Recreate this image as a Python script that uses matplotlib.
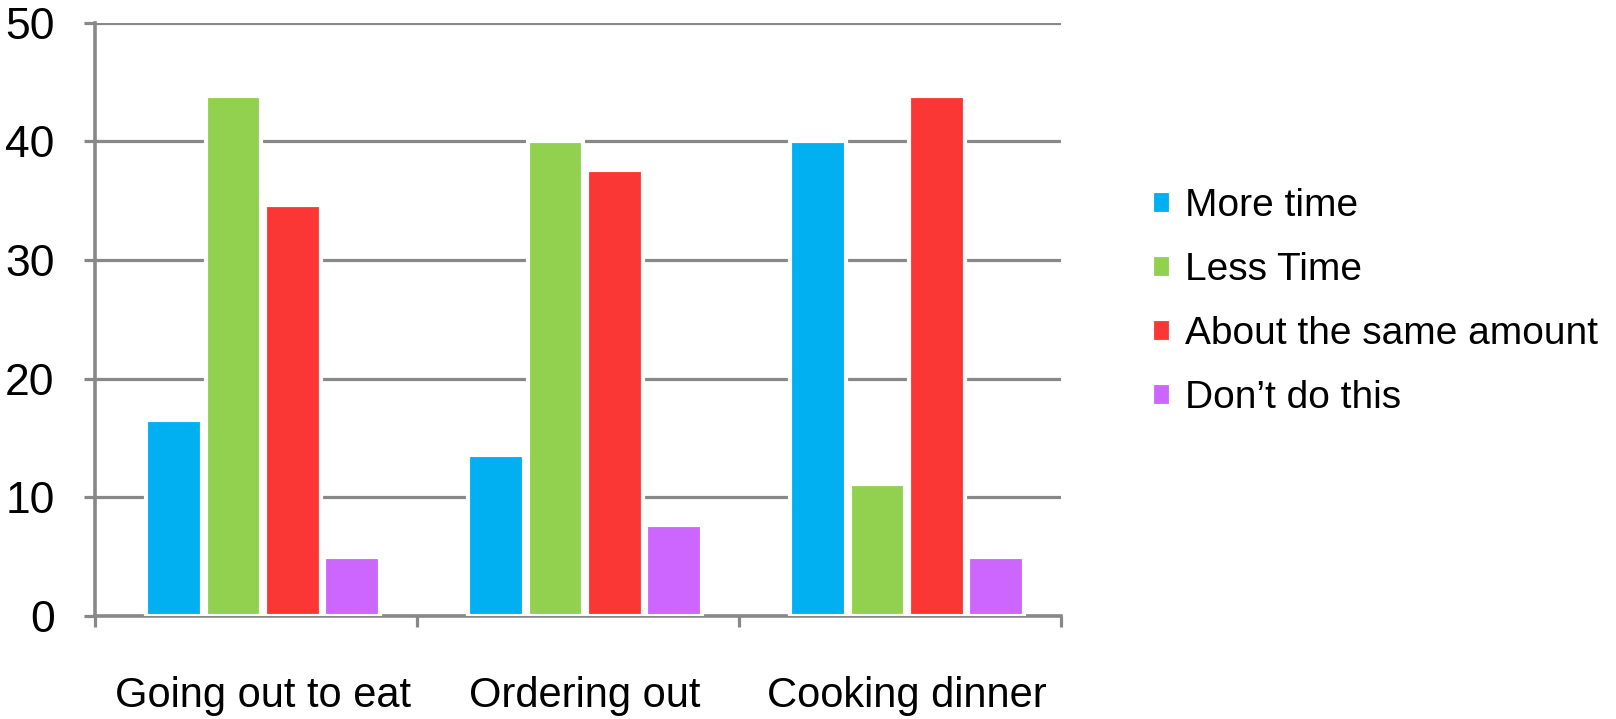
import numpy as np
import matplotlib.pyplot as plt

plt.rcParams['font.family'] = ['Liberation Sans', 'DejaVu Sans']

categorias = ['Going out to eat', 'Ordering out', 'Cooking dinner']
series = ['More time', 'Less Time', 'About the same amount', "Don\u2019t do this"]
more_time = [16.5, 13.6, 40.0]
less_time = [43.8, 40.0, 11.1]
same_amount = [34.6, 37.6, 43.8]
dont_do = [5.0, 7.7, 5.0]
colores = ['#00B0F0', '#92D050', '#FB3735', '#CC66FF']
y_ticks = [0, 10, 20, 30, 40, 50]

gris = '#888888'

fig = plt.figure(figsize=(16.16, 7.19), dpi=100)
ax = fig.add_axes([0.0587, 0.1433, 0.598, 0.8251])

x = np.arange(len(categorias))
ancho = 0.173
paso = 0.184
desplaz = 0.022
valores = [more_time, less_time, same_amount, dont_do]
for i, (serie, vals, c) in enumerate(zip(series, valores, colores)):
    pos = x + desplaz + (i - 1.5) * paso
    ax.bar(pos, vals, width=ancho, color=c, label=serie,
           edgecolor='white', linewidth=3, zorder=3)

ax.set_xlim(-0.5, 2.5)
ax.set_ylim(0, 50)
ax.set_yticks(y_ticks)
ax.set_yticklabels([str(v) for v in y_ticks], fontsize=32)
ax.yaxis.grid(True, color=gris, linewidth=2.3, zorder=0)
ax.set_axisbelow(True)

# marcas entre categorias, etiquetas en el centro
ax.set_xticks([-0.5, 0.5, 1.5, 2.5])
ax.set_xticklabels([])
ax.set_xticks(x + desplaz, minor=True)
ax.set_xticklabels(categorias, minor=True, fontsize=30)
ax.tick_params(axis='x', which='major', length=8, width=2.3, color=gris)
ax.tick_params(axis='x', which='minor', length=0, pad=43)
ax.tick_params(axis='y', length=8, width=2.3, color=gris, pad=21)

for lado in ['top', 'right']:
    ax.spines[lado].set_visible(False)
for lado in ['left', 'bottom']:
    ax.spines[lado].set_color(gris)
    ax.spines[lado].set_linewidth(2.6)

fig.legend(loc='upper left', bbox_to_anchor=(0.7129, 0.738), frameon=False,
           fontsize=28, handlelength=0.49, handleheight=0.54,
           handletextpad=0.37, labelspacing=0.72, borderpad=0, borderaxespad=0)

plt.savefig('out.png', dpi=100)
